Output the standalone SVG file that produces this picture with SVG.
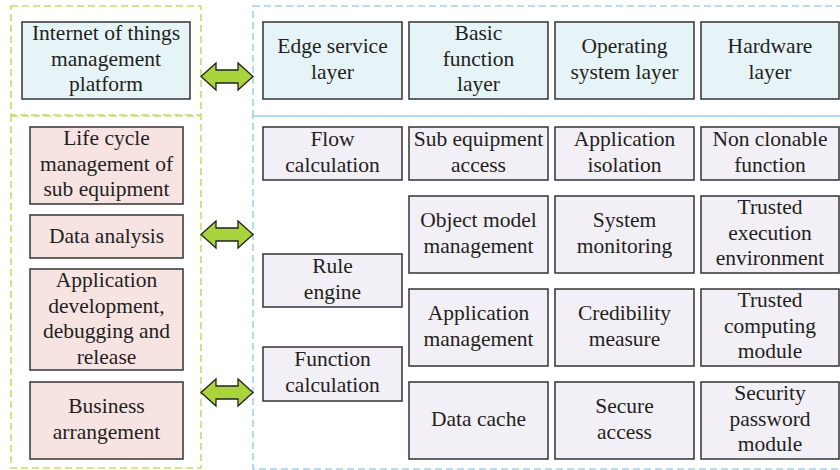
<svg xmlns="http://www.w3.org/2000/svg" width="840" height="470" viewBox="0 0 840 470">
<style>
.bg{fill:#ffffff}
.grp-g{fill:none;stroke:#c6dd6e;stroke-width:1.6;stroke-dasharray:7 4}
.grp-b{fill:none;stroke:#9ed3eb;stroke-width:1.6;stroke-dasharray:7 4}
.box{stroke:#333333;stroke-width:1.5}
.blue{fill:#e6f4f8}
.pink{fill:#f8e3e3}
.lav{fill:#f3eff6}
text{font-size:21.5px;fill:#231f20;text-anchor:middle}
.arrow{fill:#a9d43c;stroke:#222222;stroke-width:1.3;stroke-linejoin:miter}
</style>
<rect class="bg" x="0" y="0" width="840" height="470"/>
<g id="groups">
<rect class="grp-g" x="11" y="6" width="190" height="109"/>
<rect class="grp-g" x="11" y="116" width="190" height="352"/>
<rect class="grp-b" x="253" y="6" width="600" height="110"/>
<rect class="grp-b" x="253" y="116" width="600" height="353"/>
</g>
<g id="connectors">
<path class="arrow" d="M201,76.5 L216,63 L216,70 L238,70 L238,63 L253,76.5 L238,90 L238,83 L216,83 L216,90 Z"/>
<path class="arrow" d="M201,234.5 L216,221 L216,228 L238,228 L238,221 L253,234.5 L238,248 L238,241 L216,241 L216,248 Z"/>
<path class="arrow" d="M201,392.5 L216,379 L216,386 L238,386 L238,379 L253,392.5 L238,406 L238,399 L216,399 L216,406 Z"/>
</g>
<g id="nodes" font-family="'Liberation Serif', 'DejaVu Serif', serif">
<g id="iot"><rect class="box blue" x="22" y="22" width="168" height="77"/><text><tspan x="106" y="40">Internet of things</tspan><tspan x="106" y="65.5">management</tspan><tspan x="106" y="91">platform</tspan></text></g>
<g id="edge"><rect class="box blue" x="263" y="22" width="139" height="77"/><text><tspan x="332.5" y="53">Edge service</tspan><tspan x="332.5" y="78.5">layer</tspan></text></g>
<g id="basic"><rect class="box blue" x="409" y="22" width="139" height="77"/><text><tspan x="478.5" y="40">Basic</tspan><tspan x="478.5" y="65.5">function</tspan><tspan x="478.5" y="91">layer</tspan></text></g>
<g id="os"><rect class="box blue" x="555" y="22" width="139" height="77"/><text><tspan x="624.5" y="53">Operating</tspan><tspan x="624.5" y="78.5">system layer</tspan></text></g>
<g id="hw"><rect class="box blue" x="701" y="22" width="138" height="77"/><text><tspan x="770" y="53">Hardware</tspan><tspan x="770" y="78.5">layer</tspan></text></g>

<g id="lifecycle"><rect class="box pink" x="30" y="127" width="153" height="77"/><text><tspan x="106.5" y="145">Life cycle</tspan><tspan x="106.5" y="170.5">management of</tspan><tspan x="106.5" y="196">sub equipment</tspan></text></g>
<g id="dataanalysis"><rect class="box pink" x="30" y="215" width="153" height="43"/><text><tspan x="106.5" y="243">Data analysis</tspan></text></g>
<g id="appdev"><rect class="box pink" x="30" y="269" width="153" height="101"/><text><tspan x="106.5" y="287">Application</tspan><tspan x="106.5" y="312.5">development,</tspan><tspan x="106.5" y="338">debugging and</tspan><tspan x="106.5" y="363.5">release</tspan></text></g>
<g id="business"><rect class="box pink" x="30" y="382" width="153" height="77"/><text><tspan x="106.5" y="413">Business</tspan><tspan x="106.5" y="438.5">arrangement</tspan></text></g>

<g id="flow"><rect class="box lav" x="263" y="127" width="139" height="53"/><text><tspan x="332.5" y="146">Flow</tspan><tspan x="332.5" y="171.5">calculation</tspan></text></g>
<g id="rule"><rect class="box lav" x="263" y="254" width="139" height="53"/><text><tspan x="332.5" y="273">Rule</tspan><tspan x="332.5" y="298.5">engine</tspan></text></g>
<g id="funccalc"><rect class="box lav" x="263" y="347" width="139" height="54"/><text><tspan x="332.5" y="366">Function</tspan><tspan x="332.5" y="391.5">calculation</tspan></text></g>

<g id="subequip"><rect class="box lav" x="409" y="127" width="139" height="53"/><text><tspan x="478.5" y="146">Sub equipment</tspan><tspan x="478.5" y="171.5">access</tspan></text></g>
<g id="objmodel"><rect class="box lav" x="409" y="196" width="139" height="77"/><text><tspan x="478.5" y="227">Object model</tspan><tspan x="478.5" y="252.5">management</tspan></text></g>
<g id="appmgmt"><rect class="box lav" x="409" y="289" width="139" height="77"/><text><tspan x="478.5" y="320">Application</tspan><tspan x="478.5" y="345.5">management</tspan></text></g>
<g id="datacache"><rect class="box lav" x="409" y="382" width="139" height="77"/><text><tspan x="478.5" y="426">Data cache</tspan></text></g>

<g id="appiso"><rect class="box lav" x="555" y="127" width="139" height="53"/><text><tspan x="624.5" y="146">Application</tspan><tspan x="624.5" y="171.5">isolation</tspan></text></g>
<g id="sysmon"><rect class="box lav" x="555" y="196" width="139" height="77"/><text><tspan x="624.5" y="227">System</tspan><tspan x="624.5" y="252.5">monitoring</tspan></text></g>
<g id="cred"><rect class="box lav" x="555" y="289" width="139" height="77"/><text><tspan x="624.5" y="320">Credibility</tspan><tspan x="624.5" y="345.5">measure</tspan></text></g>
<g id="secacc"><rect class="box lav" x="555" y="382" width="139" height="77"/><text><tspan x="624.5" y="413">Secure</tspan><tspan x="624.5" y="438.5">access</tspan></text></g>

<g id="nonclon"><rect class="box lav" x="701" y="127" width="138" height="53"/><text><tspan x="770" y="146">Non clonable</tspan><tspan x="770" y="171.5">function</tspan></text></g>
<g id="tee"><rect class="box lav" x="701" y="196" width="138" height="77"/><text><tspan x="770" y="214">Trusted</tspan><tspan x="770" y="239.5">execution</tspan><tspan x="770" y="265">environment</tspan></text></g>
<g id="tcm"><rect class="box lav" x="701" y="289" width="138" height="77"/><text><tspan x="770" y="307">Trusted</tspan><tspan x="770" y="332.5">computing</tspan><tspan x="770" y="358">module</tspan></text></g>
<g id="spm"><rect class="box lav" x="701" y="382" width="138" height="77"/><text><tspan x="770" y="400">Security</tspan><tspan x="770" y="425.5">password</tspan><tspan x="770" y="451">module</tspan></text></g>
</g>
</svg>
